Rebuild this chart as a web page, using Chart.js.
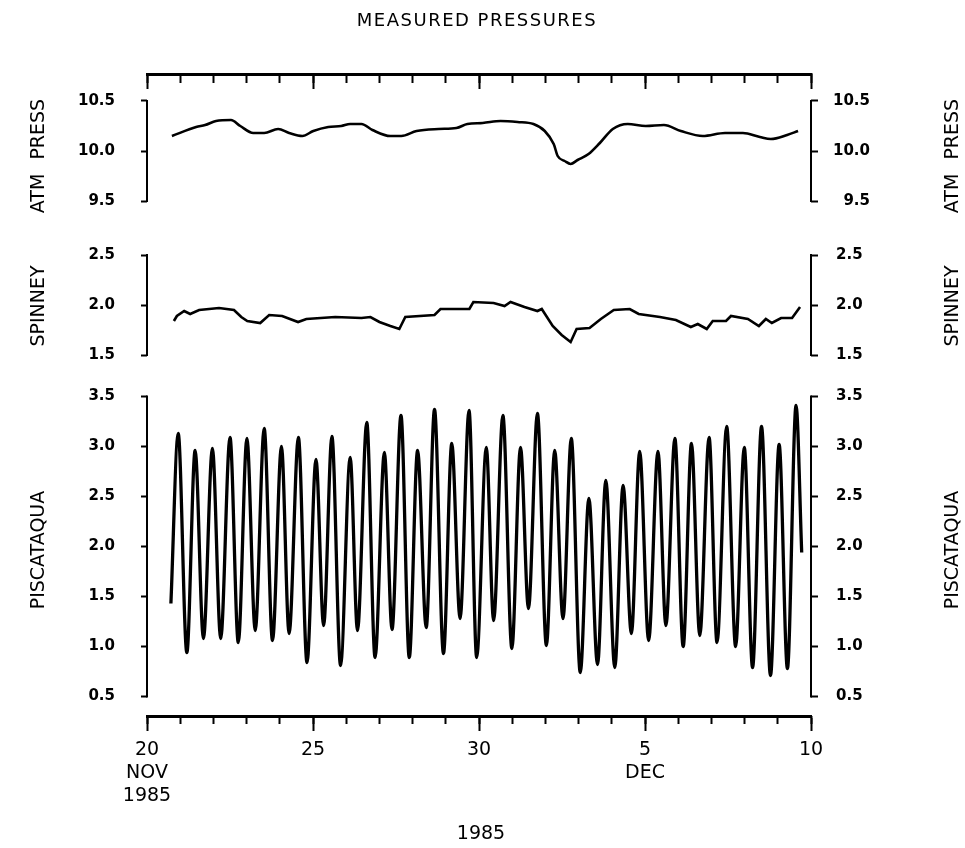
<!DOCTYPE html>
<html>
<head>
<meta charset="utf-8">
<script src="https://cdn.jsdelivr.net/npm/chart.js@4.4.1/dist/chart.umd.min.js"></script>
<style>
html,body{margin:0;padding:0;background:#fff;}
#wrap{position:relative;width:965px;height:848px;overflow:hidden;}
#c{position:absolute;left:0;top:0;}
.t{position:absolute;font-family:"DejaVu Sans",sans-serif;color:#000;white-space:nowrap;transform:translate(-50%,-50%);line-height:1;}
.r{transform:translate(-50%,-50%) rotate(-90deg);}
</style>
</head>
<body>
<div id="wrap">
<canvas id="c" width="965" height="848"></canvas>
<div class="t" style="left:477px;top:20px;font-size:18px;letter-spacing:1.5px;">MEASURED PRESSURES</div>
<div class="t" style="left:481px;top:832px;font-size:19px;">1985</div>
<div class="t r" style="left:37px;top:156px;font-size:19px;word-spacing:8px;">ATM PRESS</div>
<div class="t r" style="left:37px;top:306px;font-size:19px;">SPINNEY</div>
<div class="t r" style="left:37px;top:550px;font-size:19px;">PISCATAQUA</div>
<div class="t r" style="left:951px;top:156px;font-size:19px;word-spacing:8px;">ATM PRESS</div>
<div class="t r" style="left:951px;top:306px;font-size:19px;">SPINNEY</div>
<div class="t r" style="left:951px;top:550px;font-size:19px;">PISCATAQUA</div>
</div>
<script>
// ---- data (x = days after 20 Nov 1985, 00h) ----
const atmDays = [0.75,1.48,1.75,2.08,2.53,2.81,3.20,3.53,3.95,4.28,4.68,5.01,5.46,5.85,6.12,6.46,6.79,7.33,7.66,8.12,8.78,9.32,9.65,10.11,10.65,11.16,11.64,11.98,12.25,12.37,12.58,12.76,12.97,13.30,13.64,14.03,14.48,15.02,15.57,16.08,16.74,17.41,17.95,18.46,18.79,19.28,19.61];
const atmValues = [10.15,10.24,10.26,10.30,10.31,10.25,10.18,10.18,10.22,10.18,10.15,10.20,10.24,10.25,10.27,10.27,10.21,10.15,10.15,10.20,10.22,10.23,10.27,10.28,10.30,10.29,10.27,10.20,10.07,9.95,9.90,9.87,9.91,9.97,10.08,10.22,10.27,10.25,10.26,10.20,10.15,10.18,10.18,10.14,10.12,10.16,10.20];

const spinneyDays = [0.81,0.90,1.12,1.30,1.57,2.17,2.62,2.84,3.02,3.41,3.68,4.07,4.55,4.80,5.67,6.46,6.73,7.00,7.33,7.60,7.78,8.66,8.84,9.71,9.83,10.44,10.77,10.95,11.37,11.76,11.89,12.22,12.49,12.76,12.94,13.33,13.67,14.06,14.54,14.81,15.45,15.93,16.38,16.59,16.86,17.04,17.44,17.59,18.10,18.43,18.64,18.82,19.10,19.43,19.67];
const spinneyValues = [1.84,1.89,1.94,1.91,1.95,1.97,1.95,1.88,1.84,1.82,1.90,1.89,1.83,1.86,1.88,1.87,1.88,1.83,1.79,1.76,1.88,1.90,1.96,1.96,2.03,2.02,1.99,2.03,1.98,1.94,1.96,1.79,1.70,1.63,1.76,1.77,1.86,1.95,1.96,1.91,1.88,1.85,1.78,1.81,1.76,1.84,1.84,1.89,1.86,1.79,1.86,1.82,1.87,1.87,1.98];

const piscDays = [0.72,0.94,1.20,1.45,1.70,1.97,2.22,2.50,2.75,3.01,3.26,3.53,3.78,4.05,4.28,4.56,4.82,5.09,5.32,5.57,5.83,6.12,6.34,6.62,6.87,7.15,7.38,7.65,7.90,8.15,8.41,8.66,8.93,9.18,9.43,9.70,9.93,10.22,10.44,10.72,10.99,11.25,11.49,11.76,12.03,12.28,12.53,12.78,13.05,13.31,13.57,13.82,14.09,14.34,14.59,14.84,15.11,15.39,15.63,15.90,16.15,16.40,16.65,16.93,17.17,17.46,17.73,17.99,18.24,18.51,18.78,19.04,19.29,19.55,19.72];
const piscValues = [1.43,3.13,0.94,2.96,1.08,2.98,1.08,3.09,1.04,3.08,1.16,3.18,1.06,3.00,1.13,3.09,0.84,2.87,1.21,3.10,0.81,2.89,1.16,3.24,0.89,2.94,1.17,3.31,0.89,2.96,1.19,3.37,0.93,3.03,1.28,3.36,0.89,2.99,1.26,3.31,0.98,2.99,1.38,3.33,1.01,2.96,1.28,3.08,0.74,2.48,0.82,2.66,0.79,2.61,1.13,2.95,1.06,2.95,1.21,3.08,1.00,3.03,1.11,3.09,1.04,3.20,1.00,2.99,0.79,3.20,0.71,3.02,0.78,3.41,1.94];

// ---- ticks ----
const xMinorTicks = [0,1,2,3,4,5,6,7,8,9,10,11,12,13,14,15,16,17,18,19,20];
const xMajorTicks = [0,5,10,15,20];
const xTickLabels = [['20','NOV','1985'],'25','30',['5','DEC'],'10'];
const atmTicks = [9.5,10.0,10.5];
const spinneyTicks = [1.5,2.0,2.5];
const piscTicks = [0.5,1.0,1.5,2.0,2.5,3.0,3.5];

function pts(d, v){ return d.map((x,i)=>({x:x, y:v[i]})); }
function noPad(s){ s.paddingLeft = s.paddingRight = s.paddingTop = s.paddingBottom = 0; }
function zeroFit(s){ if (s.isHorizontal()) s.height = 0; else s.width = 0; noPad(s); }
function fixW(w){ return s=>{ s.width = w; noPad(s); }; }
function fixH(h){ return s=>{ s.height = h; noPad(s); }; }
function setTicks(arr){ return s=>{ s.ticks = arr.map(v=>({value:v})); }; }

const yFont = {family:'DejaVu Sans', size:15, weight:'bold'};

// panel boxes: 74-228 (ATM), 228-375.5 (SPINNEY), 375.5-716 (PISCATAQUA)
function yAxis(pos, min, max, tickArr, weight, stackWeight, far){
  return {
    type:'linear', position:pos, min:min, max:max,
    stack: pos==='left' ? 'L' : 'R', stackWeight: stackWeight, weight: weight,
    afterBuildTicks:setTicks(tickArr),
    afterFit: fixW(pos==='left' ? 80 : 59),
    border:{display:false},
    grid:{drawOnChartArea:false, drawTicks:true, tickLength: pos==='left'?6:7, tickWidth:2, tickColor:'#000'},
    ticks:{autoSkip:false, color:'#000', font:yFont, padding: pos==='left'?26:18,
      crossAlign: far ? 'far' : 'near',
      callback:(v)=>Number(v).toFixed(1)}
  };
}

const bracketPlugin = {
  id:'brackets',
  afterDraw(chart){
    const ctx = chart.ctx;
    ctx.save();
    ctx.strokeStyle = '#000';
    ctx.lineWidth = 2;
    ['yAtmL','ySpinL','yPiscL','yAtmR','ySpinR','yPiscR'].forEach(id=>{
      const s = chart.scales[id];
      const t = s.ticks;
      const x = s.position==='left' ? s.right : s.left;
      const y1 = s.getPixelForValue(t[0].value);
      const y2 = s.getPixelForValue(t[t.length-1].value);
      ctx.beginPath();
      ctx.moveTo(x, y1+1); ctx.lineTo(x, y2-1);
      ctx.stroke();
    });
    ctx.restore();
  }
};

new Chart(document.getElementById('c'), {
  type:'line',
  data:{
    datasets:[
      {label:'ATM PRESS', data:pts(atmDays, atmValues), xAxisID:'x', yAxisID:'yAtmL',
       borderColor:'#000', borderWidth:2.6, pointRadius:0, cubicInterpolationMode:'monotone', fill:false},
      {label:'SPINNEY', data:pts(spinneyDays, spinneyValues), xAxisID:'x', yAxisID:'ySpinL',
       borderColor:'#000', borderWidth:2.6, pointRadius:0, tension:0, fill:false},
      {label:'PISCATAQUA', data:pts(piscDays, piscValues), xAxisID:'x', yAxisID:'yPiscL',
       borderColor:'#000', borderWidth:3.3, pointRadius:0, cubicInterpolationMode:'monotone', fill:false}
    ]
  },
  options:{
    responsive:false, animation:false, devicePixelRatio:1,
    layout:{padding:{left:67, top:74, right:95, bottom:32}},
    plugins:{legend:{display:false}, title:{display:false}, tooltip:{enabled:false}},
    events:[],
    scales:{
      xMinor:{type:'linear', position:'bottom', weight:0, min:0, max:20,
         afterBuildTicks:setTicks(xMinorTicks), afterFit:zeroFit,
         border:{display:false},
         grid:{drawOnChartArea:false, drawTicks:true, tickLength:8, tickWidth:2, tickColor:'#000'},
         ticks:{display:false}},
      x:{type:'linear', position:'bottom', weight:1, min:0, max:20,
         afterBuildTicks:setTicks(xMajorTicks), afterFit:fixH(100),
         border:{display:true, width:3, color:'#000'},
         grid:{drawOnChartArea:false, drawTicks:true, tickLength:15, tickWidth:2, tickColor:'#000'},
         ticks:{autoSkip:false, maxRotation:0, minRotation:0, color:'#000', padding:8,
           font:{family:'DejaVu Sans', size:19},
           callback:(v,i)=>xTickLabels[i]}},
      xTop:{type:'linear', position:'top', min:0, max:20,
         afterBuildTicks:setTicks(xMinorTicks), afterFit:zeroFit,
         border:{display:true, width:3, color:'#000'},
         grid:{drawOnChartArea:false, drawTicks:true, tickLength:-9, tickWidth:2, tickColor:'#000'},
         ticks:{display:false}},
      xTopMajor:{type:'linear', position:'top', min:0, max:20,
         afterBuildTicks:setTicks(xMajorTicks), afterFit:zeroFit,
         border:{display:false},
         grid:{drawOnChartArea:false, drawTicks:true, tickLength:-15, tickWidth:2, tickColor:'#000'},
         ticks:{display:false}},
      yAtmL:  yAxis('left', 9.23, 10.77, atmTicks, 3, 154, false),
      ySpinL: yAxis('left', 1.295, 2.77, spinneyTicks, 2, 147.5, false),
      yPiscL: yAxis('left', 0.305, 3.71, piscTicks, 1, 340.5, false),
      yAtmR:  yAxis('right', 9.23, 10.77, atmTicks, 1, 154, true),
      ySpinR: yAxis('right', 1.295, 2.77, spinneyTicks, 2, 147.5, false),
      yPiscR: yAxis('right', 0.305, 3.71, piscTicks, 3, 340.5, false)
    }
  },
  plugins:[bracketPlugin]
});
</script>
</body>
</html>
